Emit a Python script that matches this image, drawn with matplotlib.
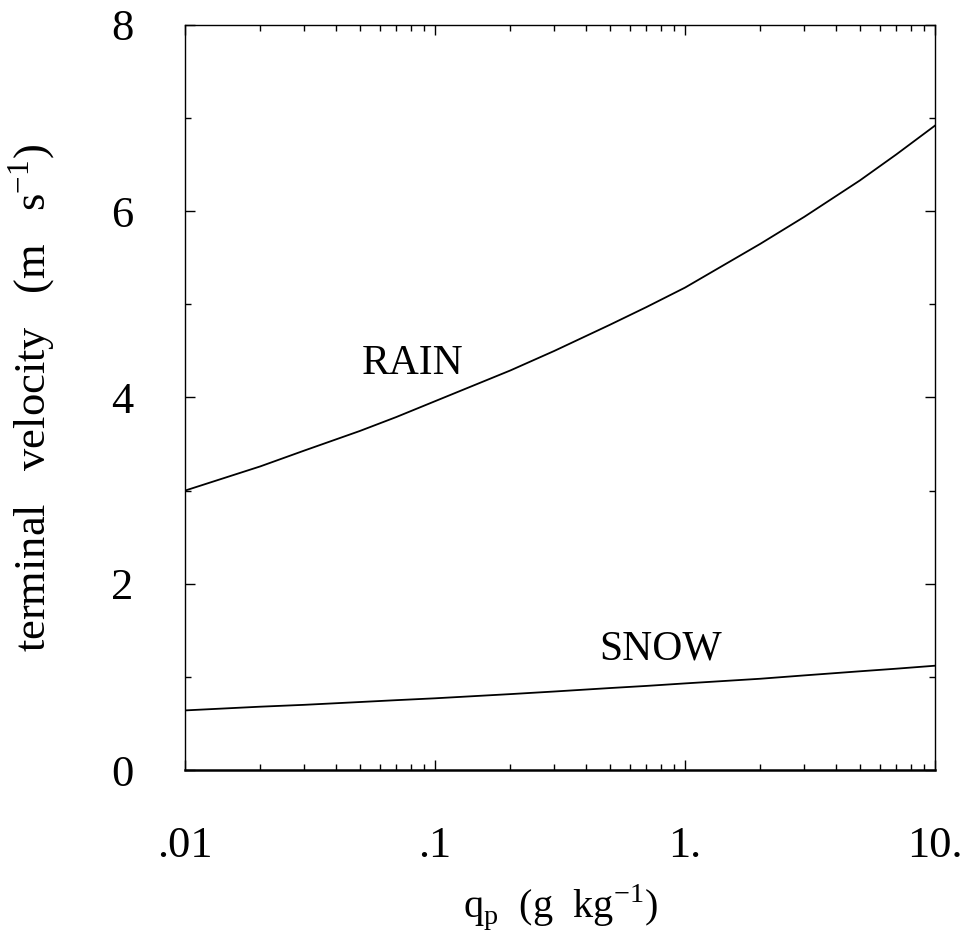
import numpy as np
import matplotlib
matplotlib.use("Agg")
import matplotlib.pyplot as plt
import matplotlib.ticker as ticker

plt.rcParams["font.family"] = "Liberation Serif"
plt.rcParams["mathtext.fontset"] = "custom"
plt.rcParams["mathtext.rm"] = "Liberation Serif"

# ── Data ────────────────────────────────────────────────────────────────────
q_p = [0.01, 0.02, 0.03, 0.05, 0.07, 0.1, 0.2, 0.3, 0.5, 0.7,
       1.0, 2.0, 3.0, 5.0, 7.0, 10.0]                                 # g/kg
v_rain = [3.00, 3.26, 3.43, 3.64, 3.79, 3.96, 4.29, 4.50, 4.78, 4.97,
          5.18, 5.65, 5.94, 6.33, 6.61, 6.92]                          # m/s
v_snow = [0.64, 0.68, 0.70, 0.73, 0.75, 0.77, 0.815, 0.843, 0.88, 0.903,
          0.93, 0.98, 1.016, 1.06, 1.088, 1.12]

x_ticks = [0.01, 0.1, 1.0, 10.0]
x_ticklabels = [".01", ".1", "1.", "10."]
y_ticks = [0, 2, 4, 6, 8]

fig = plt.figure(figsize=(9.71, 9.49), dpi=100)
ax = fig.add_axes([0.1905, 0.1886, 0.7725, 0.7851])

ax.plot(q_p, v_rain, color="black", linewidth=1.3)
ax.plot(q_p, v_snow, color="black", linewidth=1.3)

ax.text(0.081, 4.36, "RAIN", fontsize=30, ha="center", va="center")
ax.text(0.80, 1.30, "SNOW", fontsize=30, ha="center", va="center")

ax.set_xscale("log")
ax.set_xlim(0.01, 10)
ax.set_ylim(0, 8)
ax.set_xticks(x_ticks)
ax.set_xticklabels(x_ticklabels)
ax.xaxis.set_minor_locator(ticker.LogLocator(base=10, subs=np.arange(2, 10)))
ax.xaxis.set_minor_formatter(ticker.NullFormatter())
ax.set_yticks(y_ticks)
ax.yaxis.set_minor_locator(ticker.MultipleLocator(1))

ax.tick_params(which="both", direction="in", top=True, right=True,
               labelsize=32, width=1.0)
ax.tick_params(which="major", length=7)
ax.tick_params(which="minor", length=4)
ax.tick_params(axis="x", which="major", pad=40)
ax.tick_params(axis="y", which="major", pad=37)

for sp in ax.spines.values():
    sp.set_linewidth(1.0)
ax.spines["bottom"].set_linewidth(1.8)

ax.set_xlabel(r"q$_\mathrm{p}$  (g  kg$^{-1}$)", fontsize=29, labelpad=12)
ax.set_ylabel(r"terminal   velocity   (m   s$^{-1}$)", fontsize=32,
              labelpad=38)

plt.savefig("out.png", dpi=100)
plt.close()
